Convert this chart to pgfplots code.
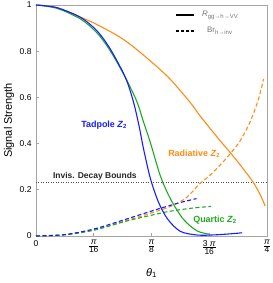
\documentclass[border=0pt]{standalone}
\usepackage{pgfplots}
\pgfplotsset{compat=1.18}
\usepackage{fontspec}
\setmainfont{Liberation Sans}
\definecolor{cOrange}{RGB}{255,140,20}
\definecolor{cGreen}{RGB}{30,170,30}
\definecolor{cBlue}{RGB}{20,30,255}
\definecolor{cFrame}{RGB}{165,165,165}
\begin{document}
\begin{tikzpicture}
\useasboundingbox (-36bp,-47bp) rectangle (237bp,236bp);
\begin{axis}[
  scale only axis, width=231bp, height=231bp,
  xmin=0, xmax=4, ymin=0, ymax=1,
  axis line style={cFrame, line width=0.8bp},
  tick style={cFrame, line width=0.6bp},
  major tick length=3bp,
  tick align=inside,
  xtick={0,1,2,3,4},
  xticklabels={0, $\frac{\mbox{\itshape π}}{\mbox{16}}$, $\frac{\mbox{\itshape π}}{\mbox{8}}$, $\frac{\mbox{3 \itshape π}}{\mbox{16}}$, $\frac{\mbox{\itshape π}}{\mbox{4}}$},
  ytick={0,0.2,0.4,0.6,0.8,1},
  xtick pos=bottom, ytick pos=left,
  /pgf/number format/assume math mode=true,
  ticklabel style={font=\fontsize{8.5}{9}\selectfont},
  yticklabel style={xshift=-1bp},
  xticklabel style={yshift=-1bp},
  xlabel={\textit{θ}\textsubscript{1}},
  ylabel={Signal Strength},
  xlabel style={at={(axis description cs:0.5,-0.16)}, anchor=center, font=\fontsize{11}{12}\selectfont},
  ylabel style={at={(axis description cs:-0.117,0.5)}, anchor=center, font=\fontsize{11}{12}\selectfont},
  legend style={draw=none, fill=none, at={(axis description cs:0.6,0.99)}, anchor=north west,
     font=\fontsize{8}{9}\selectfont, text=gray!90!black, row sep=5bp, inner xsep=1bp},
  legend cell align=left,
  legend image code/.code={\draw[#1, line width=1.3bp] (0bp,0bp) -- (18bp,0bp);},
  clip=false,
]
\addlegendimage{black}
\addlegendentry{\hspace{5bp}\textit{R}\textsubscript{gg→h→VV}}
\addlegendimage{black, dash pattern=on 3bp off 1.8bp}
\addlegendentry{\hspace{10bp}Br\textsubscript{h→inv}}

% invisible decay bound
\addplot[black!70, line width=0.45bp, dash pattern=on 0.5bp off 2bp] coordinates {(0,0.233) (4,0.233)};

% Radiative (orange)
\addplot[cOrange, line width=1.1bp, smooth] coordinates {
(0,1) (0.3,0.993) (0.6,0.966) (1.06,0.915) (1.47,0.858) (1.78,0.8) (2.28,0.69) (2.67,0.578) (2.85,0.517) (3.17,0.418) (3.36,0.362) (3.56,0.30) (3.76,0.233) (3.88,0.18) (3.97,0.129)};
\addplot[cOrange, line width=1.1bp, smooth, dash pattern=on 4bp off 2.5bp] coordinates {
(0,0) (0.5,0.006) (1,0.027) (1.5,0.062) (2,0.1) (2.33,0.128) (2.6,0.165) (2.83,0.225) (3.0,0.26) (3.2,0.31) (3.36,0.355) (3.53,0.41) (3.7,0.49) (3.85,0.59) (3.94,0.68)};

% Quartic (green)
\addplot[cGreen, line width=1.1bp, smooth] coordinates {
(0,1) (0.37,0.985) (0.78,0.938) (1.06,0.878) (1.29,0.8) (1.55,0.685) (1.75,0.58) (1.86,0.495) (1.98,0.405) (2.155,0.259) (2.33,0.16) (2.55,0.073) (2.79,0.022) (3.0,0.008)};
\addplot[cGreen, line width=1.1bp, smooth, dash pattern=on 4bp off 2.5bp] coordinates {
(0,0) (0.5,0.005) (1,0.025) (1.5,0.06) (1.75,0.076) (2,0.09) (2.25,0.104) (2.5,0.114) (2.75,0.122) (3.03,0.128)};

% Tadpole (blue)
\addplot[cBlue, line width=1.1bp, smooth] coordinates {
(0,1) (0.37,0.988) (0.78,0.945) (1.06,0.887) (1.29,0.808) (1.55,0.685) (1.69,0.578) (1.79,0.47) (1.86,0.38) (1.98,0.25) (2.12,0.147) (2.28,0.073) (2.5,0.02) (2.8,0.004) (3.1,0.005) (3.4,0.01) (3.57,0.014)};
\addplot[cBlue, line width=1.1bp, smooth, dash pattern=on 4bp off 2.5bp] coordinates {
(0,0) (0.5,0.006) (1,0.03) (1.5,0.068) (1.75,0.088) (2,0.108) (2.25,0.127) (2.5,0.145) (2.78,0.162)};

\node[font=\fontsize{9}{10}\selectfont\bfseries, text=cBlue] at (axis cs:1.18,0.48) {Tadpole \textit{Z}\textsubscript{2}};
\node[font=\fontsize{9}{10}\selectfont\bfseries, text=cOrange] at (axis cs:2.74,0.355) {Radiative \textit{Z}\textsubscript{2}};
\node[font=\fontsize{9}{10}\selectfont\bfseries, text=cGreen] at (axis cs:3.1,0.07) {Quartic \textit{Z}\textsubscript{2}};
\node[font=\fontsize{8.5}{9}\selectfont\bfseries, text=black!85] at (axis cs:1.02,0.26) {Invis. Decay Bounds};
\end{axis}
\end{tikzpicture}
\end{document}
